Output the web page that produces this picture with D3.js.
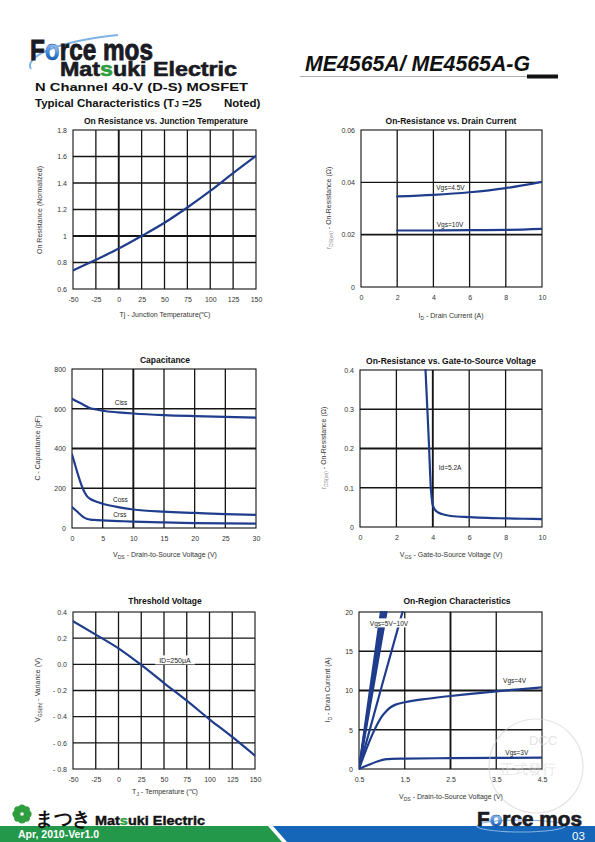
<!DOCTYPE html>
<html><head><meta charset="utf-8">
<script src="https://cdn.jsdelivr.net/npm/d3@7"></script>
<style>
body{margin:0;background:#fff}
svg{display:block}
text{font-family:"Liberation Sans",Arial,sans-serif}
</style>
</head><body>
<svg id="page" width="595" height="842"></svg>
<script>
// ---------------- DATA ----------------
// Chart 1: On Resistance vs Junction Temperature
const tjTemp = [-50,-25,0,25,50,75,100,125,150];
const onResNorm = [0.74,0.82,0.905,1.0,1.10,1.215,1.34,1.475,1.605];
const c1XTicks = [-50,-25,0,25,50,75,100,125,150];
const c1YTicks = [0.6,0.8,1,1.2,1.4,1.6,1.8];

// Chart 2: On-Resistance vs Drain Current
const drainCurrent = [2,4,6,8,10];
const rdsVgs45 = [0.0346,0.0352,0.0362,0.0378,0.0402];
const rdsVgs10 = [0.0216,0.0216,0.0217,0.0218,0.0222];
const c2XTicks = [0,2,4,6,8,10];
const c2YTicks = [0,0.02,0.04,0.06];

// Chart 3: Capacitance
const vdsCap = [0,0.5,1,1.5,2,2.5,3,4,5,7.5,10,15,20,25,30];
const ciss = [650,642,634,626,618,610,603,596,590,582,576,568,563,559,555];
const coss = [370,318,266,220,182,158,146,132,122,105,93,82,76,70,66];
const crss = [105,92,78,64,52,45,42,40,38,35,32,28,25,23,22];
const c3XTicks = [0,5,10,15,20,25,30];
const c3YTicks = [0,200,400,600,800];

// Chart 4: On-Resistance vs Gate-to-Source Voltage
const vgsSweep = [3.6,3.7,3.78,3.84,3.89,3.95,4.0,4.2,4.5,5,6,7,8,9,10];
const rdsVsVgs = [0.40,0.30,0.22,0.15,0.10,0.07,0.055,0.04,0.033,0.028,0.025,0.023,0.022,0.021,0.02];
const c4XTicks = [0,2,4,6,8,10];
const c4YTicks = [0,0.1,0.2,0.3,0.4];

// Chart 5: Threshold Voltage
const tjVth = [-50,-25,0,25,50,75,100,125,150];
const vthVariance = [0.33,0.227,0.122,-0.005,-0.143,-0.278,-0.42,-0.555,-0.698];
const c5XTicks = [-50,-25,0,25,50,75,100,125,150];
const c5YTicks = [-0.8,-0.6,-0.4,-0.2,0,0.2,0.4];
const c5YLabels = ["- 0.8","- 0.6","- 0.4","- 0.2","0.0","0.2","0.4"];

// Chart 6: On-Region Characteristics
const vdsVgs4 = [0.5,0.6,0.7,0.8,0.9,1.0,1.1,1.2,1.3,1.5,2,2.5,3,3.5,4,4.5];
const idVgs4 = [0,1.6,3.1,4.5,5.7,6.7,7.4,7.9,8.2,8.5,8.95,9.3,9.6,9.9,10.15,10.4];
const vdsVgs3 = [0.5,0.7,0.9,1.1,1.2,1.5,2.5,3.5,4.5];
const idVgs3 = [0,0.5,0.95,1.25,1.3,1.33,1.38,1.42,1.45];
const vdsVgs5 = [0.5,1.0,1.45];
const idVgs5 = [0,10.6,20];
const vdsVgs6 = [0.5,1.10];
const vdsVgs8 = [0.5,1.06];
const vdsVgs9 = [0.5,1.02];
const vdsVgs10 = [0.5,0.98];
const idSteep = [0,20];
const c6XTicks = [0.5,1.5,2.5,3.5,4.5];
const c6YTicks = [0,5,10,15,20];

// ---------------- DRAW ----------------
const svg = d3.select("#page");
const FONT = '"Liberation Sans",Arial,sans-serif';
const LINE = "#1f3d8c";

const defs = svg.append("defs");
const rg = defs.append("radialGradient").attr("id","ball").attr("cx","35%").attr("cy","35%").attr("r","65%");
rg.append("stop").attr("offset","0%").attr("stop-color","#cfe6ff");
rg.append("stop").attr("offset","55%").attr("stop-color","#2f7fd6");
rg.append("stop").attr("offset","100%").attr("stop-color","#0b3f8a");

// Header
svg.append("path").attr("d","M31 69 C 24 58, 52 42, 118 35").attr("fill","none")
  .attr("stroke","#7fb2e6").attr("stroke-width",2);
const fm = svg.append("text").attr("x",30).attr("y",59.5).attr("font-size",29).attr("font-weight","bold")
  .attr("fill","#1b1b24").attr("stroke","#1b1b24").attr("stroke-width",0.9)
  .attr("textLength",123).attr("lengthAdjust","spacingAndGlyphs");
fm.append("tspan").text("F");
fm.append("tspan").attr("fill","url(#ball)").attr("stroke","#0b3f8a").attr("stroke-width",0.3).text("o");
fm.append("tspan").text("rce mos");
const me = svg.append("text").attr("x",60).attr("y",75.5).attr("font-size",19.5).attr("font-weight","bold")
  .attr("fill","#1b1b24").attr("stroke","#1b1b24").attr("stroke-width",0.6)
  .attr("textLength",177).attr("lengthAdjust","spacingAndGlyphs");
me.append("tspan").text("Mat");
me.append("tspan").attr("fill","#2e9e3e").attr("stroke","#2e9e3e").text("s");
me.append("tspan").text("uki Electric");

svg.append("text").attr("x",305).attr("y",71).attr("font-size",22).attr("font-weight","bold")
  .attr("font-style","italic").attr("fill","#111").attr("textLength",225).attr("lengthAdjust","spacingAndGlyphs")
  .text("ME4565A/ ME4565A-G");
svg.append("line").attr("x1",300).attr("x2",527).attr("y1",76.5).attr("y2",76.5).attr("stroke","#999").attr("stroke-width",0.8);
svg.append("rect").attr("x",527).attr("y",74.5).attr("width",31).attr("height",4).attr("fill","#111");

svg.append("text").attr("x",35).attr("y",91).attr("font-size",11.5).attr("font-weight","bold").attr("fill","#111")
  .attr("textLength",213).attr("lengthAdjust","spacingAndGlyphs").text("N Channel 40-V (D-S) MOSFET");
const tc = svg.append("text").attr("x",35).attr("y",107).attr("font-size",11.5).attr("font-weight","bold").attr("fill","#111");
tc.append("tspan").text("Typical Characteristics (T");
tc.append("tspan").attr("font-size",8.5).text("J");
tc.append("tspan").text(" =25");
tc.append("tspan").attr("x",224).text("Noted)");

// Chart helper
function rotLabel(g, x, y, parts){
  const t = g.append("text").attr("transform",`translate(${x},${y}) rotate(-90)`)
    .attr("text-anchor","middle").attr("font-size",7).attr("fill","#333");
  parts.forEach(p=>{
    const s = t.append("tspan").text(p.t);
    if(p.sub) s.attr("font-size",5).attr("baseline-shift","-2");
    if(p.c) s.attr("fill",p.c);
  });
}
function hLabel(g, x, y, parts){
  const t = g.append("text").attr("x",x).attr("y",y).attr("text-anchor","middle").attr("font-size",7).attr("fill","#333");
  parts.forEach(p=>{
    const s = t.append("tspan").text(p.t);
    if(p.sub) s.attr("font-size",5).attr("baseline-shift","-2");
  });
}

let clipId = 0;
function drawChart(c){
  const [x0,x1,y0,y1] = c.box;
  const x = d3.scaleLinear().domain(c.xd).range([x0,x1]);
  const y = d3.scaleLinear().domain(c.yd).range([y1,y0]);
  const g = svg.append("g");
  g.append("text").attr("x",c.tx).attr("y",c.ty).attr("text-anchor","middle").attr("font-size",8.5)
    .attr("font-weight","bold").attr("fill","#111").text(c.title);
  const gx = c.xt.filter(v=>v>c.xd[0] && v<c.xd[1]);
  const gy = c.yt.filter(v=>v>c.yd[0] && v<c.yd[1]);
  g.selectAll(null).data(gx).join("line")
    .attr("x1",d=>x(d)).attr("x2",d=>x(d)).attr("y1",y0).attr("y2",y1)
    .attr("stroke","#151515").attr("stroke-width",d=>(c.hx||[]).includes(d)?1.9:1.3);
  g.selectAll(null).data(gy).join("line")
    .attr("y1",d=>y(d)).attr("y2",d=>y(d)).attr("x1",x0).attr("x2",x1)
    .attr("stroke","#151515").attr("stroke-width",d=>(c.hy||[]).includes(d)?1.9:1.3);
  g.append("rect").attr("x",x0).attr("y",y0).attr("width",x1-x0).attr("height",y1-y0)
    .attr("fill","none").attr("stroke","#111").attr("stroke-width",1.1);
  const ax = d3.axisBottom(x).tickValues(c.xt).tickSize(0).tickPadding(8)
    .tickFormat((d,i)=>c.xl?c.xl[i]:String(d));
  const axg = g.append("g").attr("transform",`translate(0,${y1})`).call(ax);
  axg.select(".domain").remove();
  axg.attr("font-family",FONT).attr("font-size",7).selectAll("text").attr("fill","#333");
  const ay = d3.axisLeft(y).tickValues(c.yt).tickSize(0).tickPadding(6)
    .tickFormat((d,i)=>c.yl?c.yl[i]:String(d));
  const ayg = g.append("g").attr("transform",`translate(${x0},0)`).call(ay);
  ayg.select(".domain").remove();
  ayg.attr("font-family",FONT).attr("font-size",7).selectAll("text").attr("fill","#333");
  const id = "clip"+(clipId++);
  defs.append("clipPath").attr("id",id).append("rect").attr("x",x0).attr("y",y0-1).attr("width",x1-x0).attr("height",y1-y0+2);
  const sg = g.append("g").attr("clip-path",`url(#${id})`);
  c.series.forEach(s=>{
    const pts = s.x.map((v,i)=>[v,s.y[i]]);
    sg.append("path").datum(pts)
      .attr("d", d3.line().x(d=>x(d[0])).y(d=>y(d[1])).curve(d3.curveMonotoneX))
      .attr("fill","none").attr("stroke",LINE).attr("stroke-width",s.w||2.2).attr("stroke-linecap","round");
  });
  (c.notes||[]).forEach(n=>{
    const px = x(n.x), py = y(n.y);
    if(n.bg){
      g.append("rect").attr("x",px-n.bg/2).attr("y",py-5).attr("width",n.bg).attr("height",9).attr("fill","#fff");
    }
    g.append("text").attr("x",px).attr("y",py+2.5).attr("text-anchor","middle").attr("font-size",n.fs||7)
      .attr("fill","#222").text(n.t);
  });
  hLabel(g, c.xlx, c.xly, c.xlabel);
  rotLabel(g, c.ylx, c.yly, c.ylabel);
}

const charts = [
  {title:"On Resistance vs. Junction Temperature", tx:166, ty:124, box:[73,256,130,289],
   xd:[-50,150], yd:[0.6,1.8], xt:c1XTicks, yt:c1YTicks, hx:[0], hy:[1],
   series:[{x:tjTemp,y:onResNorm}],
   xlabel:[{t:"Tj - Junction Temperature(℃)"}], xlx:165, xly:317,
   ylabel:[{t:"On Resistance (Normalized)"}], ylx:42, yly:210},
  {title:"On-Resistance vs. Drain Current", tx:451, ty:124, box:[361,542,130,287],
   xd:[0,10], yd:[0,0.06], xt:c2XTicks, yt:c2YTicks, hy:[0.02],
   series:[{x:drainCurrent,y:rdsVgs45},{x:drainCurrent,y:rdsVgs10}],
   notes:[{t:"Vgs=4.5V",x:4.94,y:0.038,fs:6.5},{t:"Vgs=10V",x:4.92,y:0.024,fs:6.5}],
   xlabel:[{t:"I"},{t:"D",sub:true},{t:" - Drain Current (A)"}], xlx:451, xly:318,
   ylabel:[{t:"r",c:"#888"},{t:"DS(on)",sub:true,c:"#888"},{t:" - On-Resistance (Ω)"}], ylx:331, yly:208},
  {title:"Capacitance", tx:165, ty:363, box:[72,256,369,528],
   xd:[0,30], yd:[0,800], xt:c3XTicks, yt:c3YTicks, hx:[10], hy:[400],
   series:[{x:vdsCap,y:ciss},{x:vdsCap,y:coss},{x:vdsCap,y:crss}],
   notes:[{t:"Ciss",x:8.0,y:632,fs:6.5},{t:"Coss",x:7.9,y:141,fs:6.5},{t:"Crss",x:7.8,y:66,fs:6.5}],
   xlabel:[{t:"V"},{t:"DS",sub:true},{t:" - Drain-to-Source Voltage (V)"}], xlx:165, xly:557,
   ylabel:[{t:"C - Capacitance (pF)"}], ylx:40, yly:448},
  {title:"On-Resistance vs. Gate-to-Source Voltage", tx:451, ty:364, box:[360,542,370,527],
   xd:[0,10], yd:[0,0.4], xt:c4XTicks, yt:c4YTicks, hx:[4], hy:[0.2],
   series:[{x:vgsSweep,y:rdsVsVgs}],
   notes:[{t:"Id=5.2A",x:4.95,y:0.152,fs:6.5}],
   xlabel:[{t:"V"},{t:"GS",sub:true},{t:" - Gate-to-Source Voltage (V)"}], xlx:451, xly:557,
   ylabel:[{t:"r",c:"#888"},{t:"DS(on)",sub:true,c:"#888"},{t:" - On-Resistance (Ω)"}], ylx:326, yly:448},
  {title:"Threshold Voltage", tx:165, ty:604, box:[73,255,612,769],
   xd:[-50,150], yd:[-0.8,0.4], xt:c5XTicks, yt:c5YTicks, yl:c5YLabels,
   series:[{x:tjVth,y:vthVariance}],
   notes:[{t:"ID=250μA",x:62,y:0.03,bg:40,fs:7}],
   xlabel:[{t:"T"},{t:"J",sub:true},{t:" - Temperature (℃)"}], xlx:165, xly:794,
   ylabel:[{t:"V"},{t:"GS(th)",sub:true},{t:" - Variance (V)"}], ylx:40, yly:690},
  {title:"On-Region Characteristics", tx:457, ty:604, box:[359,542,612,769],
   xd:[0.5,4.5], yd:[0,20], xt:c6XTicks, yt:c6YTicks, hx:[2.5], hy:[10],
   series:[{x:vdsVgs4,y:idVgs4},{x:vdsVgs3,y:idVgs3},{x:vdsVgs5,y:idVgs5},
           {x:vdsVgs6,y:idSteep},{x:vdsVgs8,y:idSteep},{x:vdsVgs9,y:idSteep},{x:vdsVgs10,y:idSteep}],
   notes:[{t:"Vgs=5V~10V",x:1.156,y:18.55,bg:40,fs:6.5},{t:"Vgs=4V",x:3.9,y:11.25,fs:6.5},{t:"Vgs=3V",x:3.95,y:2.07,fs:6.5}],
   xlabel:[{t:"V"},{t:"DS",sub:true},{t:" - Drain-to-Source Voltage (V)"}], xlx:451, xly:799,
   ylabel:[{t:"I"},{t:"D",sub:true},{t:" - Drain Current (A)"}], ylx:330, yly:690}
];
charts.forEach(drawChart);

// Watermark
const wm = svg.append("g").attr("opacity",0.55);
wm.append("circle").attr("cx",536).attr("cy",766).attr("r",47).attr("fill","none").attr("stroke","#cfcfcf").attr("stroke-width",1.2);
wm.append("text").attr("x",543).attr("y",745).attr("text-anchor","middle").attr("font-size",13)
  .attr("font-family","'Liberation Serif',serif").attr("fill","#cfcfcf").text("DCC");
wm.append("text").attr("x",528).attr("y",774).attr("text-anchor","middle").attr("font-size",14)
  .attr("font-family","'Noto Sans CJK TC'").attr("fill","#d4d4d4").text("正式發行");

// Footer
svg.append("polygon").attr("points","0,826 268,826 282,842 0,842").attr("fill","#23984a");
svg.append("polygon").attr("points","273,826 595,826 595,842 287,842").attr("fill","#1565b8");
svg.append("text").attr("x",18).attr("y",838).attr("font-size",10.5).attr("font-weight","bold").attr("fill","#fff").text("Apr, 2010-Ver1.0");
svg.append("text").attr("x",572).attr("y",840).attr("font-size",11.5).attr("fill","#fff").text("03");

// Footer Matsuki logo
const fl = svg.append("g").attr("fill","#2e9e3e");
d3.range(8).forEach(i=>{
  const a = i*Math.PI/4;
  fl.append("circle").attr("cx",22+6*Math.cos(a)).attr("cy",814+6*Math.sin(a)).attr("r",3.6);
});
fl.append("circle").attr("cx",22).attr("cy",814).attr("r",4);
svg.append("circle").attr("cx",22).attr("cy",814).attr("r",1.8).attr("fill","#fff");
svg.append("text").attr("x",35).attr("y",825).attr("font-size",19).attr("font-weight","bold")
  .attr("font-family","'Noto Sans CJK JP'").attr("fill","#111").attr("textLength",56).attr("lengthAdjust","spacingAndGlyphs").text("まつき");
const fme = svg.append("text").attr("x",95).attr("y",825).attr("font-size",12.5).attr("font-weight","bold")
  .attr("fill","#111").attr("stroke","#111").attr("stroke-width",0.4)
  .attr("textLength",110).attr("lengthAdjust","spacingAndGlyphs");
fme.append("tspan").text("Mat");
fme.append("tspan").attr("fill","#2e9e3e").attr("stroke","#2e9e3e").text("s");
fme.append("tspan").text("uki Electric");

// Footer Force mos logo
svg.append("ellipse").attr("cx",521).attr("cy",826).attr("rx",44).attr("ry",6).attr("fill","none")
  .attr("stroke","#7fb2e6").attr("stroke-width",1.2);
const ffm = svg.append("text").attr("x",477).attr("y",826).attr("font-size",20).attr("font-weight","bold")
  .attr("fill","#1b1b24").attr("stroke","#1b1b24").attr("stroke-width",0.7)
  .attr("textLength",105).attr("lengthAdjust","spacingAndGlyphs");
ffm.append("tspan").text("F");
ffm.append("tspan").attr("fill","url(#ball)").attr("stroke","#0b3f8a").attr("stroke-width",0.3).text("o");
ffm.append("tspan").text("rce mos");
</script>
</body></html>
